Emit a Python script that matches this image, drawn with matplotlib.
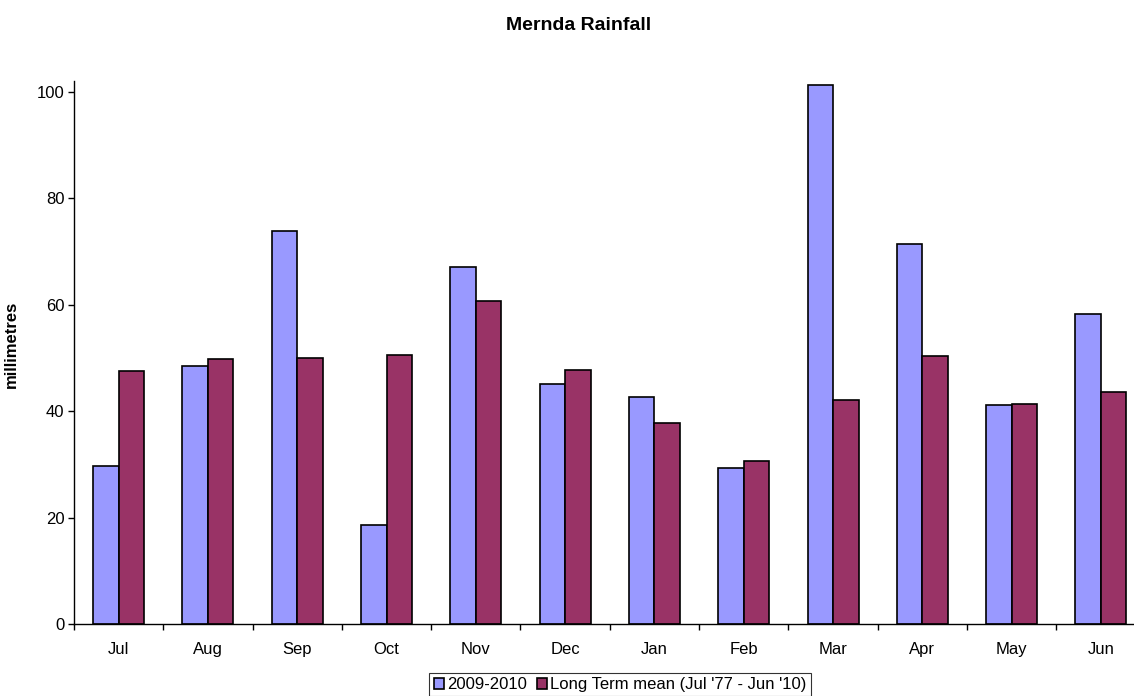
import numpy as np
import matplotlib
matplotlib.use("Agg")
import matplotlib.pyplot as plt

plt.rcParams['font.family'] = ['Liberation Sans', 'DejaVu Sans']

# Monthly rainfall, Mernda (mm)
months = ['Jul', 'Aug', 'Sep', 'Oct', 'Nov', 'Dec',
          'Jan', 'Feb', 'Mar', 'Apr', 'May', 'Jun']
season_2009 = [29.6, 48.4, 73.9, 18.6, 67.1, 45.1, 42.6, 29.3, 101.3, 71.4, 41.2, 58.3]
long_term = [47.6, 49.8, 50.0, 50.5, 60.6, 47.8, 37.8, 30.7, 42.1, 50.3, 41.4, 43.6]

W, H = 1134, 696
fig = plt.figure(figsize=(W / 100, H / 100), dpi=100)
# axes spans a bit past the right edge, like the original crop
left, right, top, bottom = 74, 1145.6, 81, 624
ax = fig.add_axes([left / W, 1 - bottom / H, (right - left) / W, (bottom - top) / H])

x = np.arange(len(months))
w = 1 / 3.5
ax.bar(x - w / 2, season_2009, w, color='#9999FF', edgecolor='black', linewidth=1.2,
       label='2009-2010')
ax.bar(x + w / 2, long_term, w, color='#993366', edgecolor='black', linewidth=1.2,
       label="Long Term mean (Jul '77 - Jun '10)")

ax.set_xlim(-0.5, len(months) - 0.5)
ax.set_ylim(0, 102)
ax.set_yticks([0, 20, 40, 60, 80, 100])
ax.set_xticks(x)
ax.set_xticklabels(months)
ax.set_xticks(np.arange(len(months) + 1) - 0.5, minor=True)
ax.tick_params(axis='x', which='major', length=0, pad=13, labelsize=12)
ax.tick_params(axis='x', which='minor', length=4, direction='out', width=1)
ax.tick_params(axis='y', length=4, direction='out', width=1, labelsize=12, pad=3)

for s in ['top', 'right']:
    ax.spines[s].set_visible(False)
ax.spines['left'].set_linewidth(1)
ax.spines['bottom'].set_linewidth(1)

ax.set_ylabel('millimetres', fontweight='bold', fontsize=12)
ax.yaxis.set_label_coords((18.5 - left) / (right - left), (bottom - 344) / (bottom - top))
fig.text(579 / W, 1 - 26 / H, 'Mernda Rainfall', ha='center', va='center',
         fontweight='bold', fontsize=14)

leg = fig.legend(loc='upper center', bbox_to_anchor=(620 / W, 1 - 673 / H), ncol=2,
                 frameon=True, fancybox=False, edgecolor='black', fontsize=12,
                 handlelength=0.6, handleheight=0.6, handletextpad=0.2,
                 columnspacing=0.6, borderpad=0.25, borderaxespad=0)
leg.get_frame().set_linewidth(0.8)

fig.savefig('out.png', dpi=100)
